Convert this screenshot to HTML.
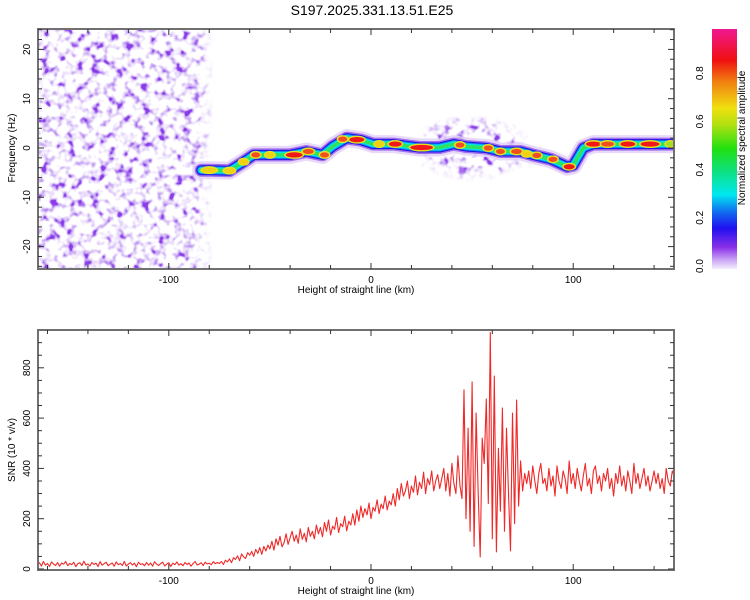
<!DOCTYPE html>
<html><head><meta charset="utf-8"><style>
body{margin:0;background:#fff;}
svg{display:block;font-family:"Liberation Sans",sans-serif;}
</style></head><body>
<svg id="c" width="750" height="600" viewBox="0 0 750 600">
<defs>
<filter id="nLight" x="0" y="0" width="1" height="1" color-interpolation-filters="sRGB"><feTurbulence type="fractalNoise" baseFrequency="0.12" numOctaves="2" seed="7" result="t"/><feColorMatrix in="t" type="matrix" values="0 0 0 0 0  0 0 0 0 0  0 0 0 0 0  7 0 0 0 -3.2" result="a"/><feFlood flood-color="#e0cdf9"/><feComposite in2="a" operator="in"/></filter>
<filter id="nMed" x="0" y="0" width="1" height="1" color-interpolation-filters="sRGB"><feTurbulence type="fractalNoise" baseFrequency="0.12" numOctaves="2" seed="7" result="t"/><feColorMatrix in="t" type="matrix" values="0 0 0 0 0  0 0 0 0 0  0 0 0 0 0  10 0 0 0 -5.8" result="a"/><feFlood flood-color="#bc96f2"/><feComposite in2="a" operator="in"/></filter>
<filter id="nDark" x="0" y="0" width="1" height="1" color-interpolation-filters="sRGB"><feTurbulence type="fractalNoise" baseFrequency="0.12" numOctaves="2" seed="7" result="t"/><feColorMatrix in="t" type="matrix" values="0 0 0 0 0  0 0 0 0 0  0 0 0 0 0  14 0 0 0 -9.3" result="a"/><feFlood flood-color="#8a3ce8"/><feComposite in2="a" operator="in"/></filter>
<linearGradient id="fadeR" x1="0" x2="1" y1="0" y2="0"><stop offset="0" stop-color="#fff"/><stop offset="0.88" stop-color="#fff"/><stop offset="1" stop-color="#000"/></linearGradient>
<mask id="noiseMask"><rect x="38" y="29" width="175" height="240" fill="url(#fadeR)"/></mask>
<radialGradient id="blobMaskG"><stop offset="0" stop-color="#fff"/><stop offset="0.6" stop-color="#fff"/><stop offset="1" stop-color="#000"/></radialGradient>
<mask id="midMask"><ellipse cx="472" cy="148" rx="62" ry="34" fill="url(#blobMaskG)"/></mask>
<linearGradient id="cbar" x1="0" x2="0" y1="1" y2="0">
<stop offset="0" stop-color="#f4eefc"/><stop offset="0.04" stop-color="#c8a0f4"/><stop offset="0.09" stop-color="#8a30e8"/><stop offset="0.17" stop-color="#2010f0"/><stop offset="0.24" stop-color="#1070f0"/><stop offset="0.31" stop-color="#00e8f0"/><stop offset="0.42" stop-color="#10e070"/><stop offset="0.5" stop-color="#20e010"/><stop offset="0.6" stop-color="#b0e010"/><stop offset="0.67" stop-color="#f0e010"/><stop offset="0.78" stop-color="#f08010"/><stop offset="0.87" stop-color="#f01010"/><stop offset="1" stop-color="#f01890"/>
</linearGradient>
<clipPath id="clipTop"><rect x="38" y="29" width="636" height="240"/></clipPath>
<clipPath id="clipBot"><rect x="38" y="330" width="636" height="240"/></clipPath>
</defs>
<text x="372" y="15" text-anchor="middle" font-size="14">S197.2025.331.13.51.E25</text>
<g id="topPanel"></g>
<g id="botPanel"></g>
<g id="cbPanel"></g>
</svg>
<script>
// ---- data ----
const ridgeHeights = [-84,-80,-70,-63,-58,-48,-40,-32,-24,-19,-12,-5,1,11,24,34,41,47,57,64,74,80,89,97,100,105,110,130,150];
const ridgeFreqs   = [-4.5,-4.5,-4.6,-2.8,-1.4,-1.4,-1.4,-0.7,-1.4,0.3,2.0,1.6,0.8,0.8,0.1,0.1,0.8,0.3,0.0,-0.7,-0.7,-1.4,-2.3,-3.8,-3.5,0.0,0.8,0.8,0.8];
const peakHeights = [-80,-70,-63,-57,-50,-38,-31,-23,-14,-7,4,12,25,44,58,64,72,77,82,90,98,110,117,127,138,148];
const peakFreqs   = [-4.5,-4.6,-2.8,-1.4,-1.4,-1.4,-0.7,-1.4,1.8,1.7,0.8,0.8,0.1,0.6,0.0,-0.7,-0.7,-1.2,-1.5,-2.3,-3.8,0.8,0.8,0.8,0.8,0.8];
const peakAmps    = [0.7,0.7,0.7,0.8,0.75,0.9,0.85,0.8,0.85,0.9,0.7,0.9,0.95,0.8,0.85,0.8,0.85,0.75,0.8,0.8,0.9,0.9,0.85,0.9,0.9,0.65];
const peakLens    = [5,3,2,2,2,6,3,2,2,5,2,4,9,2,2,2,3,2,2,2,3,5,4,5,7,2];
const snrStart = -165;
const snrStep = 1;
const snrValues = [18,25,12,30,15,22,10,28,20,14,26,11,24,19,30,13,22,17,27,9,21,25,14,31,16,20,12,26,18,23,10,29,15,21,27,13,19,24,11,28,17,22,14,30,12,20,25,16,23,9,27,18,21,13,26,15,24,11,29,19,14,22,27,12,20,25,10,23,17,28,15,21,13,26,18,24,11,22,30,16,19,25,14,27,20,23,17,29,21,26,
22,30,18,35,28,40,25,45,38,52,33,60,48,42,65,55,70,50,78,62,85,58,90,72,95,80,
110,75,120,95,130,88,105,140,98,125,150,110,135,102,160,118,142,108,165,130,
150,120,175,140,165,128,185,150,195,135,170,158,205,145,180,168,210,152,190,175,
220,175,235,190,250,205,240,215,262,200,245,230,275,220,258,240,290,235,270,255,
300,250,320,275,340,290,310,350,280,330,305,370,295,345,320,385,300,360,335,390,310,350,375,320,360,
400,310,380,290,420,340,300,450,330,280,
712,200,560,150,744,90,620,300,48,520,420,676,260,940,120,767,68,480,230,640,150,560,300,72,620,180,672,250,430,310,380,340,
390,320,410,350,300,380,420,340,360,310,400,330,370,290,410,350,320,390,360,300,430,340,380,320,400,350,310,370,420,330,360,300,390,410,340,370,310,380,350,400,320,360,290,380,340,410,330,370,310,390,350,300,420,340,380,320,360,400,330,370,310,350,390,340,380,320,360,300,400,350,330,390,370];
const xTicks = [-100,0,100];
const freqTicks = [-20,-10,0,10,20];
const snrTicks = [0,200,400,600,800];
const cbTicks = [0.0,0.2,0.4,0.6,0.8];

const NS='http://www.w3.org/2000/svg';
function mk(tag,attrs,parent){const e=document.createElementNS(NS,tag);for(const k in attrs)e.setAttribute(k,attrs[k]);parent.appendChild(e);return e;}
const L=38,R=674;
const xs=h=>371+(h)*2.022;
const ysT=f=>148-f*4.93;
const ysB=v=>569-v*0.2515;
const cbY=v=>266-v*241;
const topG=document.getElementById('topPanel'),botG=document.getElementById('botPanel'),cbG=document.getElementById('cbPanel');

// ---- top panel ----
const gClip=mk('g',{'clip-path':'url(#clipTop)'},topG);
const noise=mk('g',{mask:'url(#noiseMask)'},gClip);


['nLight','nMed','nDark'].forEach(f=>mk('rect',{x:38,y:29,width:175,height:240,fill:'#000',filter:`url(#${f})`},noise));
const mid=mk('g',{mask:'url(#midMask)'},gClip);


['nLight','nMed','nDark'].forEach(f=>mk('rect',{x:405,y:110,width:135,height:80,fill:'#000',filter:`url(#${f})`},mid));
const pts=ridgeHeights.map((h,i)=>xs(h).toFixed(1)+','+ysT(ridgeFreqs[i]).toFixed(1)).join(' ');
[['#e2d0f8',18,0.8],['#a070f0',13,1],['#2010e0',10,1],['#1080f0',8,1],['#00e8e8',6,1],['#30e060',3.5,1]].forEach(([c,w,o])=>{
  const p=mk('polyline',{points:pts,fill:'none',stroke:c,'stroke-width':w,'stroke-opacity':o,'stroke-linejoin':'round','stroke-linecap':'round'},gClip);
  
  
});
function ampColor(a){return a>0.85?'#f01818':a>0.75?'#f05020':a>0.68?'#f0d010':'#a0e020';}
peakHeights.forEach((h,i)=>{
  const px=xs(h),py=ysT(peakFreqs[i]),rx=peakLens[i]*1.0+2.5;
  mk('ellipse',{cx:px,cy:py,rx:rx+1.5,ry:4,fill:'#e8e020'},gClip);
  const e=mk('ellipse',{cx:px,cy:py,rx:rx,ry:2.6,fill:ampColor(peakAmps[i])},gClip);
  
  
});
function frame(y0,y1,parent){
  const f=mk('rect',{x:L,y:y0,width:R-L,height:y1-y0,fill:'none',stroke:'#707070','stroke-width':2},parent);
  
  
  for(let h=-160;h<=150;h+=20){const x=xs(h);const big=xTicks.includes(h);
    mk('line',{x1:x,x2:x,y1:y1,y2:y1-(big?6:4),stroke:'#333','stroke-width':1},parent);
    mk('line',{x1:x,x2:x,y1:y0,y2:y0+(big?6:4),stroke:'#333','stroke-width':1},parent);}
  xTicks.forEach(t=>{const tx=mk('text',{x:xs(t),y:y1+14,'text-anchor':'middle','font-size':10},parent);tx.textContent=t;
    
    });
  const xt=mk('text',{x:356,y:y1+24,'text-anchor':'middle','font-size':10},parent);xt.textContent='Height of straight line (km)';
  
  
}
frame(29,269,topG);
for(let f=-24;f<=24;f+=2){const y=ysT(f);const big=f%10===0;
  mk('line',{x1:L,x2:L+(big?6:4),y1:y,y2:y,stroke:'#333'},topG);
  mk('line',{x1:R,x2:R-(big?6:4),y1:y,y2:y,stroke:'#333'},topG);}
freqTicks.forEach(t=>{const tx=mk('text',{x:0,y:0,'text-anchor':'middle','font-size':10,transform:`translate(30,${ysT(t)}) rotate(-90)`},topG);tx.textContent=t;
  
  });
const yt=mk('text',{x:0,y:0,'text-anchor':'middle','font-size':10,transform:'translate(15,148) rotate(-90)'},topG);yt.textContent='Frequency (Hz)';



// ---- bottom panel ----
const bClip=mk('g',{'clip-path':'url(#clipBot)'},botG);
const sp=snrValues.map((v,i)=>xs(snrStart+i*snrStep).toFixed(1)+','+ysB(v).toFixed(1)).join(' ');
const line=mk('polyline',{points:sp,fill:'none',stroke:'#f02828','stroke-width':1.1,'stroke-linejoin':'round'},bClip);


frame(330,570,botG);
for(let v=0;v<=940;v+=50){const y=ysB(v);const big=v%200===0;
  mk('line',{x1:L,x2:L+(big?6:4),y1:y,y2:y,stroke:'#333'},botG);
  mk('line',{x1:R,x2:R-(big?6:4),y1:y,y2:y,stroke:'#333'},botG);}
snrTicks.forEach(t=>{const tx=mk('text',{x:0,y:0,'text-anchor':'middle','font-size':10,transform:`translate(30,${ysB(t)}) rotate(-90)`},botG);tx.textContent=t;
  
  });
const yt2=mk('text',{x:0,y:0,'text-anchor':'middle','font-size':10,transform:'translate(15,450) rotate(-90)'},botG);yt2.textContent='SNR (10 * v/v)';



// ---- colorbar ----
const cbr=mk('rect',{x:712,y:29,width:25,height:240,fill:'url(#cbar)'},cbG);


cbTicks.forEach(t=>{const tx=mk('text',{x:0,y:0,'text-anchor':'middle','font-size':10,transform:`translate(703,${cbY(t)}) rotate(-90)`},cbG);tx.textContent=t.toFixed(1);
  
  });
const ct=mk('text',{x:0,y:0,'text-anchor':'middle','font-size':10,transform:'translate(745,138) rotate(-90)'},cbG);ct.textContent='Normalized spectral amplitude';


</script>
</body></html>
